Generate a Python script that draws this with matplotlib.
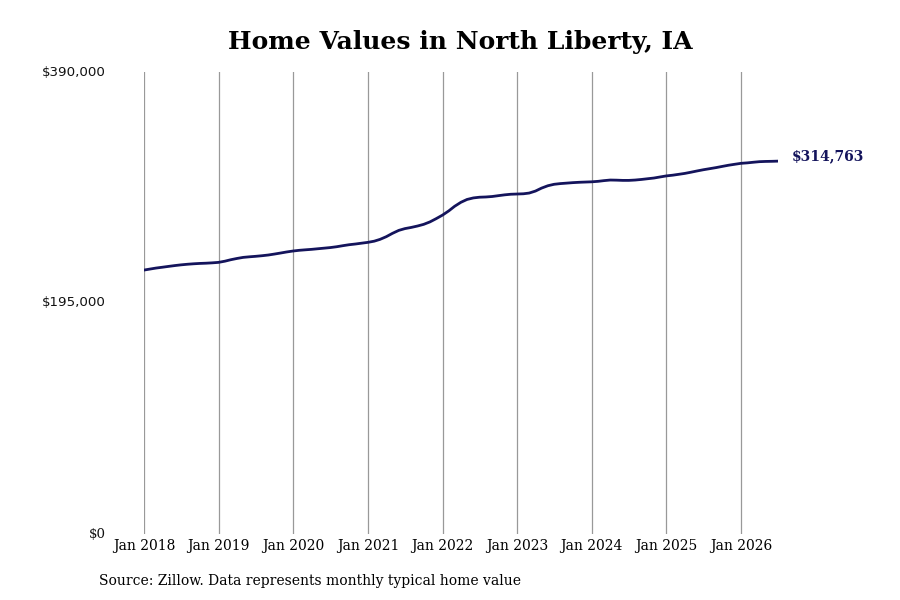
import numpy as np
import pandas as pd
import matplotlib
matplotlib.use("Agg")
import matplotlib.pyplot as plt
import matplotlib.dates as mdates

# typical home value, thousands of dollars, monthly from Jan 2018
values_2018 = [222.8, 223.7, 224.5, 225.2, 225.9, 226.6, 227.2, 227.7, 228.1, 228.4, 228.6, 228.9]
values_2019 = [229.3, 230.3, 231.5, 232.6, 233.5, 234.0, 234.4, 234.9, 235.5, 236.3, 237.2, 238.1]
values_2020 = [238.9, 239.5, 239.9, 240.3, 240.8, 241.3, 241.8, 242.5, 243.4, 244.2, 244.8, 245.5]
values_2021 = [246.2, 247.2, 248.7, 251.0, 253.8, 256.3, 257.8, 258.8, 260.0, 261.4, 263.5, 266.2]
values_2022 = [269.2, 272.8, 276.6, 280.0, 282.4, 283.7, 284.3, 284.5, 284.9, 285.6, 286.3, 286.8]
values_2023 = [287.0, 287.2, 287.8, 289.5, 292.0, 294.0, 295.2, 295.8, 296.2, 296.6, 296.9, 297.1]
values_2024 = [297.3, 297.7, 298.3, 298.8, 298.7, 298.5, 298.5, 298.8, 299.3, 299.9, 300.5, 301.4]
values_2025 = [302.3, 302.9, 303.6, 304.4, 305.4, 306.5, 307.5, 308.4, 309.3, 310.3, 311.3, 312.1]
values_2026 = [312.9, 313.3, 313.8, 314.3, 314.5, 314.6, 314.763]

values = np.array(values_2018 + values_2019 + values_2020 + values_2021 + values_2022
                  + values_2023 + values_2024 + values_2025 + values_2026) * 1000
dates = pd.date_range("2018-01-01", periods=len(values), freq="MS")

y_ticks = [0, 195000, 390000]
y_labels = ["$0", "$195,000", "$390,000"]
years = list(range(2018, 2027))

line_color = "#14145c"

fig = plt.figure(figsize=(9, 6), dpi=100)
ax = fig.add_axes([144 / 900, 1 - 534 / 600, (778 - 144) / 900, (534 - 72) / 600])

ax.plot(dates, values, color=line_color, linewidth=2.0, solid_capstyle="round")

ax.set_xlim(dates[0], dates[-1])
ax.set_ylim(0, 390000)

# vertical year lines
for yr in years:
    ax.axvline(pd.Timestamp(f"{yr}-01-01"), color="#999999", linewidth=0.9, zorder=0)

for s in ax.spines.values():
    s.set_visible(False)

ax.set_xticks([pd.Timestamp(f"{yr}-01-01") for yr in years])
ax.xaxis.set_major_formatter(mdates.DateFormatter("%b %Y"))
ax.tick_params(axis="x", length=0, pad=3.5, labelsize=10)
for lab in ax.get_xticklabels():
    lab.set_family("DejaVu Serif")

ax.set_yticks([])
for v, lab in zip(y_ticks, y_labels):
    fam = "DejaVu Serif" if v == 0 else "DejaVu Sans"
    ax.annotate(lab, xy=(0, v), xycoords=("axes fraction", "data"),
                xytext=(-38, 0), textcoords="offset pixels",
                ha="right", va="center", fontsize=9.6, family=fam, color="#111111")

# end value label
ax.annotate(f"${values[-1]:,.0f}", xy=(dates[-1], values[-1]),
            xytext=(14, 5), textcoords="offset pixels",
            ha="left", va="center", fontsize=10, fontweight="bold",
            family="DejaVu Serif", color=line_color, annotation_clip=False)

fig.text(0.512, 1 - 42 / 600, "Home Values in North Liberty, IA", ha="center", va="center",
         fontsize=18, fontweight="bold", family="DejaVu Serif")
fig.text(99 / 900, 1 - 581 / 600, "Source: Zillow. Data represents monthly typical home value",
         ha="left", va="center", fontsize=10, family="DejaVu Serif")

fig.savefig("out.png", dpi=100)
